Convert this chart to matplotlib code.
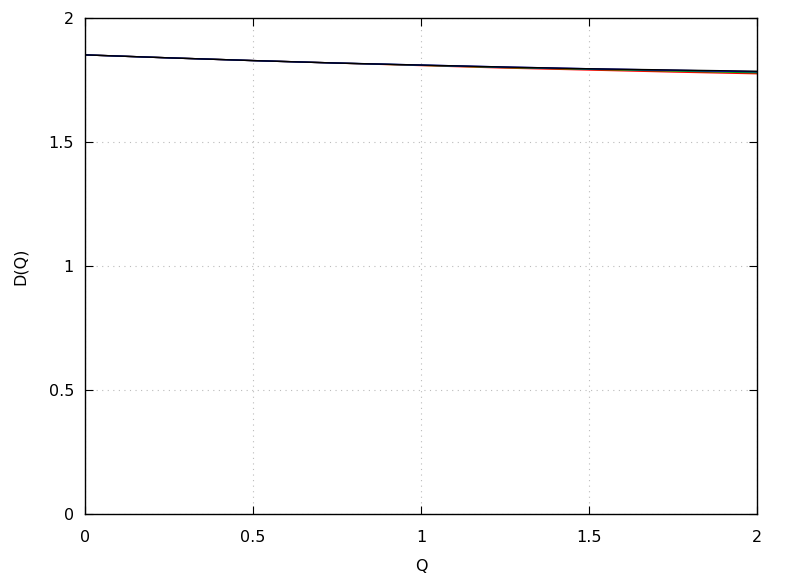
import numpy as np
import matplotlib
matplotlib.use("Agg")
import matplotlib.pyplot as plt

q = [0.0, 0.25, 0.5, 0.75, 1.0, 1.25, 1.5, 1.75, 2.0]
d_red   = [1.853, 1.841, 1.830, 1.820, 1.810, 1.800, 1.792, 1.784, 1.777]
d_green = [1.853, 1.841, 1.830, 1.820, 1.811, 1.802, 1.795, 1.788, 1.781]
d_blue  = [1.853, 1.841, 1.830, 1.820, 1.812, 1.804, 1.797, 1.791, 1.785]
d_black = [1.853, 1.841, 1.830, 1.820, 1.812, 1.804, 1.797, 1.792, 1.787]

xticks = [0, 0.5, 1, 1.5, 2]
yticks = [0, 0.5, 1, 1.5, 2]
xticklabels = ["0", "0.5", "1", "1.5", "2"]
yticklabels = ["0", "0.5", "1", "1.5", "2"]

plt.rcParams['font.family'] = ['DejaVu Sans']
fig = plt.figure(figsize=(7.88, 5.76), dpi=100)
ax = fig.add_axes([0.108, 0.107, 0.853, 0.861])

ax.plot(q, d_red, color="#ff0000", lw=1.0)
ax.plot(q, d_green, color="#00a000", lw=1.0)
ax.plot(q, d_blue, color="#0000ff", lw=1.0)
ax.plot(q, d_black, color="#000000", lw=1.0)

ax.set_xlim(0, 2)
ax.set_ylim(0, 2)
ax.set_xticks(xticks)
ax.set_xticklabels(xticklabels)
ax.set_yticks(yticks)
ax.set_yticklabels(yticklabels)
ax.tick_params(direction="in", top=True, right=True, length=6, labelsize=11.5)
ax.tick_params(axis="x", pad=11)
ax.tick_params(axis="y", pad=8)
ax.grid(True, color="#bbbbbb", linestyle=(0, (1, 4)), linewidth=0.8)
for s in ax.spines.values():
    s.set_linewidth(1.0)

ax.set_xlabel("Q", fontsize=11.5, labelpad=10)
ax.set_ylabel("D(Q)", fontsize=11.5, labelpad=15)

fig.savefig("out.png", dpi=100)
